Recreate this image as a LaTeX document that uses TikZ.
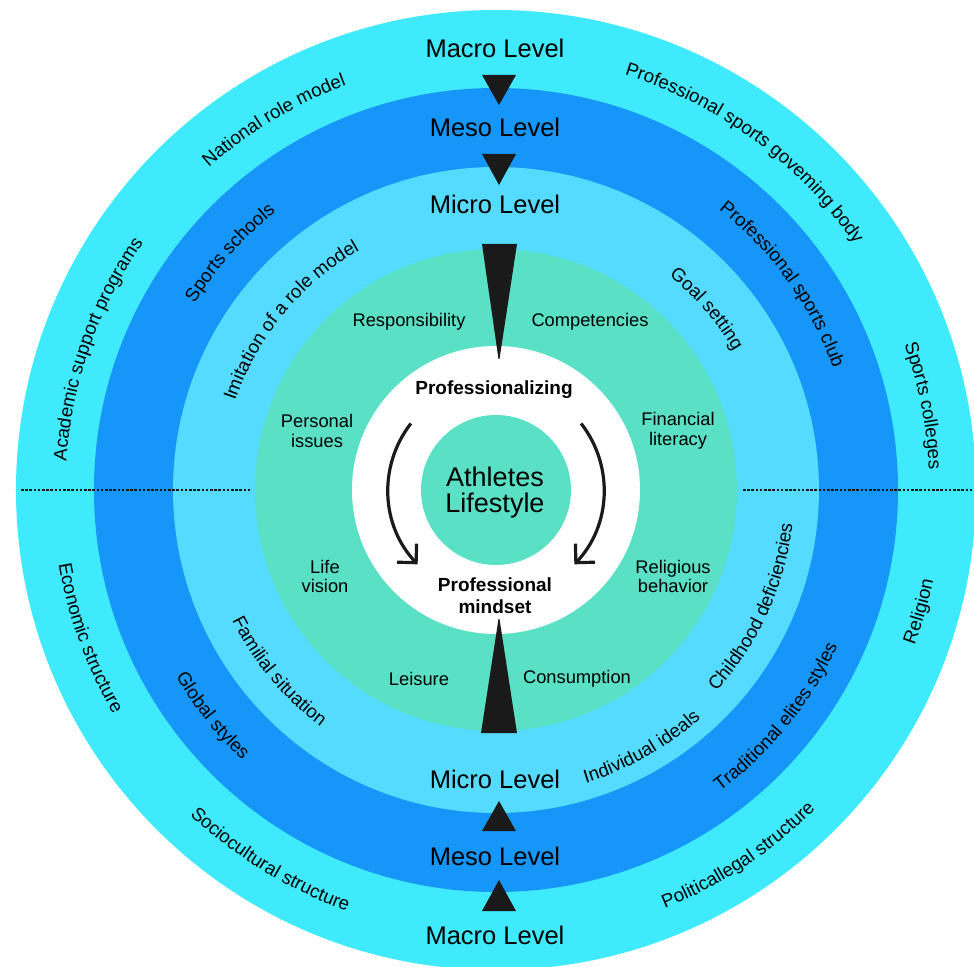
\documentclass[tikz,border=0pt]{standalone}
\usepackage{fontspec}
\setmainfont{Liberation Sans}
\usetikzlibrary{arrows.meta,decorations.text}

\definecolor{macroC}{HTML}{40EAFD}
\definecolor{mesoC}{HTML}{1696F8}
\definecolor{microC}{HTML}{55DBFF}
\definecolor{coreC}{HTML}{5AE1C5}
\definecolor{inkC}{HTML}{1A1A1A}

\newcommand\lvlfont{\fontsize{25.5}{27}\selectfont}
\newcommand\lblfont{\fontsize{18.3}{19.5}\selectfont}
\newcommand\ringfont{\fontsize{18.7}{20}\selectfont}
\newcommand\hubfont{\fontsize{27}{26}\selectfont}
\newcommand\procfont{\fontsize{19}{22}\selectfont\bfseries}

% text running clockwise along a ring (upper half): mid angle, baseline radius, text
\newcommand\ringtextcw[3]{%
  \path[decorate,decoration={text along path,text align=center,
      text={|\ringfont|#3}}]
    ({#1+40}:#2) arc[start angle={#1+40}, end angle={#1-40}, radius=#2];}
% text running counter-clockwise along a ring (lower half)
\newcommand\ringtextccw[3]{%
  \path[decorate,decoration={text along path,text align=center,
      text={|\ringfont|#3}}]
    ({#1-40}:#2) arc[start angle={#1-40}, end angle={#1+40}, radius=#2];}

\tikzset{
  level/.style={font=\lvlfont, text=black, inner sep=0pt},
  factor/.style={font=\lblfont, align=center, text=black, inner sep=0pt},
  marker/.style={fill=inkC, draw=none},
  cycle/.style={draw=inkC, line width=3.2pt,
    -{Straight Barb[length=13.5pt, width=27pt, line width=3.2pt]}},
  divider/.style={draw=inkC, line width=2.8pt, dash pattern=on 2.6pt off 1.6pt},
}

\begin{document}
\begin{tikzpicture}[x=1pt, y=1pt]
\useasboundingbox (-496,-476) rectangle (478,490);

% concentric rings
\fill[macroC] (0,0) circle[radius=480];
\fill[mesoC]  (0,0) circle[radius=402];
\fill[microC] (0,0) circle[radius=323];
\fill[coreC]  (0,0) circle[radius=241];
\fill[white]  (0,0) circle[radius=144];
\fill[coreC]  (0,0) circle[radius=75];

% horizontal dividers
\coordinate (dl1) at (-475,0);
\coordinate (dl2) at (-246,0);
\coordinate (dr1) at (247,0);
\coordinate (dr2) at (478,0);
\draw[divider] (dl1) -- (dl2);
\draw[divider] (dr1) -- (dr2);

% level titles
\node[level] (macroT) at (-1,442) {Macro Level};
\node[level] (mesoT)  at (-1,363) {Meso Level};
\node[level] (microT) at (-1,286) {Micro Level};
\node[level] (microB) at (-1,-289) {Micro Level};
\node[level] (mesoB)  at (-1,-366) {Meso Level};
\node[level] (macroB) at (-1,-445) {Macro Level};

% downward markers (top)
\fill[marker] (-14,415) -- (20,415) -- (3,385) -- cycle;
\fill[marker] (-14,336) -- (20,336) -- (3,305) -- cycle;
\fill[marker] (-14,246) -- (21,246) -- (3.5,131) -- (2.5,131) -- cycle;
% upward markers (bottom)
\fill[marker] (-14,-341) -- (20,-341) -- (3,-311) -- cycle;
\fill[marker] (-14,-421) -- (20,-421) -- (3,-390) -- cycle;
\fill[marker] (-15,-243) -- (21,-243) -- (3.5,-129) -- (2.5,-129) -- cycle;

% hub
\node[font=\hubfont, align=center, inner sep=0pt] (hub) at (-1,-3) {Athletes\\Lifestyle};
\node[font=\procfont, inner sep=0pt] (proc) at (-2,100) {Professionalizing};
\node[font=\procfont, align=center, inner sep=0pt] (mind) at (-1,-106) {Professional\\mindset};

% cycle arrows
\coordinate (al0) at (142:108);
\coordinate (ar0) at (38:108);
\draw[cycle] (al0) arc[start angle=142, end angle=223.5, radius=108];
\draw[cycle] (ar0) arc[start angle=38, end angle=-43.5, radius=108];

% core factors
\node[factor] (resp) at (-87,168) {Responsibility};
\node[factor] (comp) at (94,168) {Competencies};
\node[factor] (pers) at (-179,59) {Personal\\issues};
\node[factor] (fin)  at (182,59) {Financial\\literacy};
\node[factor] (life) at (-171,-86.5) {Life\\vision};
\node[factor] (rel)  at (177,-86.5) {Religious\\behavior};
\node[factor] (leis) at (-77,-189) {Leisure};
\node[factor] (cons) at (81,-189) {Consumption};

% macro ring
\ringtextcw{121}{431.5}{National role model}
\ringtextcw{53.6}{434.5}{Professional sports goveming body}
\ringtextcw{160.6}{430.5}{Academic support programs}
\ringtextcw{11.2}{433.5}{Sports colleges}
\ringtextccw{200}{443.5}{Economic structure}
\ringtextccw{-16}{446.5}{Religion}
\ringtextccw{238.6}{446.5}{Sociocultural structure}
\ringtextccw{-56.5}{451.5}{Politicallegal structure}

% meso ring
\ringtextcw{138.3}{354.5}{Sports schools}
\ringtextcw{35.7}{358.5}{Professional sports club}
\ringtextccw{218.5}{370.5}{Global styles}
\ringtextccw{-39}{375.5}{Traditional elites styles}

% micro ring
\ringtextcw{140.4}{275.5}{Imitation of a role model}
\ringtextcw{40.7}{275.5}{Goal setting}
\ringtextccw{219.9}{294.5}{Familial situation}
\ringtextccw{-24.5}{298.5}{Childhood deficiencies}
\ringtextccw{-60.5}{306.5}{Individual ideals}
\end{tikzpicture}
\end{document}
